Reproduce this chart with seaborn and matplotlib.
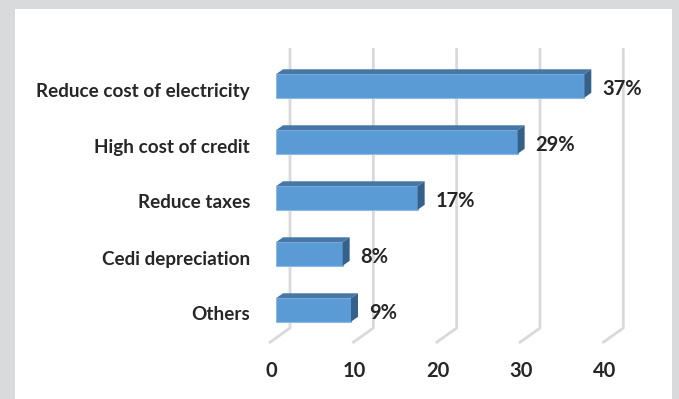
import matplotlib
matplotlib.use("Agg")
import matplotlib.pyplot as plt
import matplotlib.patches as mpatches
import seaborn as sns
import pandas as pd

categories = ["Reduce cost of electricity", "High cost of credit", "Reduce taxes",
              "Cedi depreciation", "Others"]
shares = [37, 29, 17, 8, 9]
x_ticks = [0, 10, 20, 30, 40]
value_labels = ["37%", "29%", "17%", "8%", "9%"]

df = pd.DataFrame({"reason": categories, "share": shares})

sns.set_theme(style="white")
plt.rcParams["font.family"] = ["Lato", "DejaVu Sans"]

W, H, DPI = 679, 399, 100
fig = plt.figure(figsize=(W / DPI, H / DPI), dpi=DPI)
fig.patch.set_facecolor("white")

# grey frame around the panel
frame = "#d9dadc"
for (x0, y0, w, h) in [(0, 0, 15, H), (0, 0, W, 9), (672, 0, 7, H)]:
    fig.add_artist(mpatches.Rectangle((x0 / W, 1 - (y0 + h) / H), w / W, h / H,
                                      transform=fig.transFigure, color=frame, lw=0, zorder=0))

# axes placed in pixels: x 276..609, y 58..338
left_px, right_px, top_px, bot_px = 276, 609.3, 58, 338
ax = fig.add_axes([left_px / W, 1 - bot_px / H, (right_px - left_px) / W, (bot_px - top_px) / H])
ax.set_facecolor("none")

bar_h = 0.42
front = "#5b9bd5"
top_c = "#4677a6"
side_c = "#35608a"
text_c = "#262626"

sns.barplot(data=df, x="share", y="reason", orient="h", color=front, width=bar_h,
            saturation=1, edgecolor="#8dbbe6", linewidth=0.8, ax=ax, zorder=3)

ax.set_xlim(0, 40)
ax.set_ylim(4.5, -0.5)

px_x = (right_px - left_px) / 40.0
px_y = (bot_px - top_px) / 5.0
slope = 0.71


def off(d):
    """Depth offset d (pixels) expressed in data units."""
    return d / px_x, -slope * d / px_y


# walls: gridlines on the back plane and their floor continuation
bx, by = off(14)
fx, fy = off(-7)
for v in x_ticks:
    ax.plot([v + bx, v + bx, v + fx], [-0.5 + by, 4.5 + by, 4.5 + fy],
            color="#d9d9d9", lw=2.0, clip_on=False, zorder=1, solid_capstyle="butt")

# 3D top and side faces of each bar, with value labels
dx, dy = off(7)
for i, v in enumerate(df["share"]):
    yt = i - bar_h / 2
    yb = i + bar_h / 2
    ax.add_patch(mpatches.Polygon([(0, yt), (v, yt), (v + dx, yt + dy), (dx, yt + dy)],
                                  closed=True, facecolor=top_c, edgecolor="none",
                                  clip_on=False, zorder=4))
    ax.add_patch(mpatches.Polygon([(v, yt), (v + dx, yt + dy), (v + dx, yb + dy), (v, yb)],
                                  closed=True, facecolor=side_c, edgecolor="none",
                                  clip_on=False, zorder=4))
    ax.text(v + 18 / px_x, i + 3 / px_y, value_labels[i], ha="left", va="center",
            fontsize=14.5, fontweight="bold", color=text_c, zorder=5)

# category labels, sitting slightly below the bar centres
ax.set_yticks(range(len(categories)))
ax.set_yticklabels([])
for i, name in enumerate(df["reason"]):
    ax.text(-26 / px_x, i + 5 / px_y, name, ha="right", va="center",
            fontsize=13.6, fontweight="bold", color=text_c, clip_on=False)

# tick labels along the front edge of the floor
ax.set_xticks(x_ticks)
ax.set_xticklabels([])
for v in x_ticks:
    ax.text(v + fx + 0.25, 4.5 + 33 / px_y, str(v), ha="center", va="center",
            fontsize=14.5, fontweight="bold", color=text_c)

ax.set_ylabel("")
ax.set_xlabel("")
ax.tick_params(axis="both", length=0)
for s in ax.spines.values():
    s.set_visible(False)
ax.grid(False)

fig.savefig("out.png", dpi=DPI)
